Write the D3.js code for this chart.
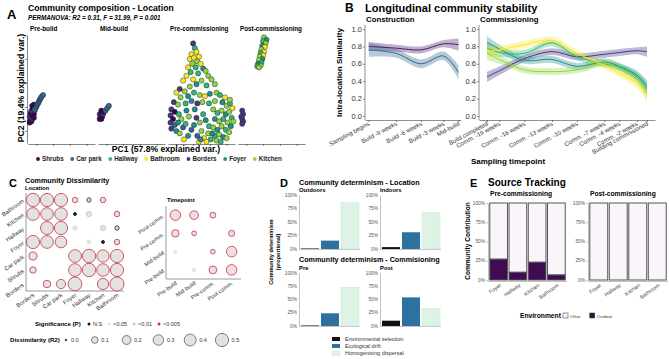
<!DOCTYPE html>
<html>
<head>
<meta charset="utf-8">
<script src="https://cdn.jsdelivr.net/npm/d3@7"></script>
<style>
  body { margin: 0; background: #fff; }
  text { font-family: "Liberation Sans", Arial, Helvetica, sans-serif; }
</style>
</head>
<body>
<svg id="fig" width="669" height="359"></svg>
<script>
// ---------- data ----------
// A: PCA scores [PC1, PC2, location code]  (codes: S C H B O F K)
const pcaLocations = ["Shrubs", "Car park", "Hallway", "Bathroom", "Borders", "Foyer", "Kitchen"];
const pcaColors = ["#440154", "#31688e", "#35b779", "#fde725", "#443a83", "#21908c", "#8fd744"];
const pcaCodes = "SCHBOFK";
const pcaFacets = ["Pre-build", "Mid-build", "Pre-commissioning", "Post-commissioning"];
const pcaPreBuild = [
  [-3.8,-1.3,"S"],[-3.7,-1.1,"S"],[-3.6,-1.2,"S"],[-3.6,-0.9,"S"],[-3.8,-0.8,"O"],[-3.5,-1.0,"O"],
  [-3.5,-0.7,"S"],[-3.7,-0.5,"S"],[-3.3,-0.6,"S"],[-3.3,-0.9,"S"],[-3.4,-0.4,"S"],[-3.6,-0.3,"O"],
  [-3.4,-0.1,"S"],[-3.2,-0.3,"O"],[-3.5,0.1,"S"],[-3.3,0.2,"S"],[-3.2,-0.2,"C"],[-3.0,0.0,"C"],
  [-2.9,0.2,"C"],[-2.8,0.3,"C"],[-2.7,0.45,"C"],[-2.6,0.6,"C"],[-2.5,0.7,"C"],[-2.4,0.85,"C"],[-2.2,1.0,"C"]
];
const pcaMidBuild = [
  [-3.8,-1.0,"S"],[-3.7,-0.8,"S"],[-3.8,-0.6,"O"],[-3.6,-0.5,"S"],[-3.5,-0.8,"S"],[-3.4,-0.6,"O"],
  [-3.6,-1.0,"S"],[-3.3,-0.4,"S"],[-3.6,-0.3,"S"],[-3.1,-0.3,"C"],[-2.9,-0.1,"C"],[-2.7,0.1,"C"]
];
const pcaPreComm = [
  [-1.0,5.3,"O"],[-0.8,4.9,"H"],[-1.2,4.4,"B"],[-0.6,4.6,"B"],[-1.4,4.0,"B"],[-0.9,4.1,"B"],[-0.3,4.2,"B"],
  [-0.5,3.8,"K"],[-1.1,3.6,"K"],[-0.1,3.6,"B"],[-1.6,3.3,"B"],[-0.7,3.3,"H"],[0.2,3.2,"F"],[-1.3,2.9,"H"],
  [0.5,3.0,"K"],[-0.4,2.8,"H"],[0.8,2.6,"K"],[-1.8,2.6,"B"],[-2.2,2.2,"B"],[-1.0,2.3,"B"],[0.0,2.2,"K"],
  [1.2,2.3,"K"],[-0.6,1.9,"F"],[0.6,1.8,"H"],[1.6,1.9,"K"],[-1.4,1.7,"K"],
  [-2.6,1.5,"O"],[-3.0,1.2,"B"],[-2.0,1.3,"K"],[-1.6,0.9,"F"],[-2.5,0.8,"K"],[-0.9,1.2,"H"],[-0.2,1.0,"K"],
  [0.4,0.9,"B"],[1.0,1.1,"F"],[1.8,1.2,"K"],[2.2,1.0,"H"],[2.8,0.8,"B"],[-3.3,0.4,"O"],[-2.8,0.2,"K"],
  [-1.9,0.3,"H"],[-1.2,0.5,"F"],[-0.5,0.3,"O"],[0.1,0.4,"K"],[0.9,0.3,"H"],[1.6,0.5,"K"],[2.5,0.4,"F"],
  [3.0,0.1,"K"],[3.4,0.3,"H"],
  [-3.6,-0.2,"O"],[-3.2,-0.4,"S"],[-3.7,-0.7,"O"],[-3.4,-1.0,"S"],[-3.7,-1.3,"O"],[-3.2,-1.5,"C"],
  [-3.6,-1.8,"O"],[-3.0,-2.0,"F"],[-2.7,-0.6,"H"],[-2.4,-1.0,"K"],[-2.8,-1.3,"F"],[-2.2,-1.7,"C"],
  [-2.6,-2.2,"K"],[-1.8,-0.3,"F"],[-1.5,-0.8,"K"],[-1.9,-1.4,"H"],[-1.2,-1.9,"C"],[-1.6,-2.4,"F"],[-2.1,-2.7,"B"],
  [-0.8,-0.2,"F"],[-0.6,-0.9,"O"],[-0.2,-1.3,"K"],[-0.9,-1.5,"F"],[0.2,-0.6,"H"],[0.5,-1.1,"F"],
  [0.0,-2.0,"K"],[-0.5,-2.4,"C"],[0.3,-2.6,"B"],[0.8,-2.2,"K"],[0.9,-1.6,"H"],[-0.3,-2.9,"B"],
  [0.6,-2.9,"B"],[1.1,-2.7,"H"],[-0.1,-2.7,"F"],
  [1.4,-0.2,"K"],[1.9,-0.5,"H"],[2.4,-0.3,"K"],[2.9,-0.6,"F"],[3.3,-0.4,"K"],[3.6,-0.9,"H"],[1.6,-1.0,"F"],
  [2.1,-1.2,"K"],[2.6,-1.0,"H"],[3.1,-1.3,"K"],[3.5,-1.6,"F"],[1.4,-1.7,"K"],[1.9,-1.9,"F"],[2.4,-1.6,"K"],
  [2.9,-1.9,"H"],[3.3,-2.1,"K"],[1.6,-2.4,"H"],[2.1,-2.3,"K"],[2.6,-2.5,"F"],[3.0,-2.6,"K"],[1.8,-2.8,"K"],
  [2.3,-2.9,"H"],[3.4,0.6,"K"],[3.7,-0.1,"B"],[3.8,-1.2,"K"],[1.3,-2.2,"F"]
];
const pcaPostComm = [
  [-3.5,-0.3,"O"],[-3.4,-0.6,"O"],[-3.6,-0.8,"O"],[-3.5,-1.0,"O"],[-3.4,-1.2,"O"],[-3.5,-1.4,"O"],
  [-0.9,5.8,"K"],[-0.6,5.6,"F"],[-1.0,5.5,"H"],[-0.7,5.3,"K"],[-1.1,5.1,"F"],[-0.8,5.0,"B"],
  [-1.2,4.8,"K"],[-0.9,4.6,"B"],[-1.3,4.5,"H"],[-1.0,4.3,"B"],[-1.4,4.2,"K"],[-1.1,4.0,"F"],
  [-1.5,3.9,"K"],[-1.2,3.7,"H"],[-1.6,3.6,"F"],[-1.3,3.45,"K"],[-1.7,3.4,"H"],[-1.5,3.3,"K"]
];
const pcaPoints = [pcaPreBuild, pcaMidBuild, pcaPreComm, pcaPostComm];

// B: intra-location similarity (smoothed mean and half band width)
const constrLabels = ["Sampling begins", "Build -9 weeks", "Build -6 weeks", "Build -3 weeks", "Mid-build"];
const constrPos = [0, 1.1, 2.1, 3.0, 3.6];
const constrSeries = ["Shrubs", "Car park"];
const constrColors = ["#4b1d6b", "#31688e"];
const constrMean = [[0.80, 0.78, 0.76, 0.83, 0.82], [0.76, 0.72, 0.60, 0.69, 0.50]];
const constrBand = [[0.05, 0.04, 0.04, 0.04, 0.07], [0.08, 0.05, 0.05, 0.05, 0.08]];
const commLabels = ["Build completed", "Comm. -19 weeks", "Comm. -16 weeks", "Comm. -13 weeks", "Comm. -10 weeks",
  "Comm. -7 weeks", "Comm. -4 weeks", "Comm. -2 weeks", "Building commissioned"];
const commPos = [0, 0.5, 1.5, 2.6, 3.6, 4.7, 5.3, 6.0, 6.4];
const commSeries = ["Borders", "Foyer", "Hallway", "Kitchen", "Bathroom"];
const commColors = ["#443a83", "#21908c", "#35b779", "#8fd744", "#fde725"];
const commMean = [
  [0.45, 0.52, 0.66, 0.74, 0.68, 0.71, 0.73, 0.75, 0.74],
  [0.85, 0.77, 0.64, 0.65, 0.57, 0.62, 0.57, 0.47, 0.34],
  [0.78, 0.73, 0.72, 0.84, 0.68, 0.60, 0.56, 0.45, 0.31],
  [0.72, 0.65, 0.53, 0.51, 0.53, 0.61, 0.55, 0.42, 0.27],
  [0.74, 0.76, 0.82, 0.87, 0.72, 0.58, 0.49, 0.37, 0.24]
];
const commBand = [
  [0.06, 0.05, 0.04, 0.04, 0.04, 0.04, 0.04, 0.04, 0.06],
  [0.07, 0.05, 0.04, 0.04, 0.04, 0.04, 0.04, 0.05, 0.07],
  [0.07, 0.05, 0.04, 0.04, 0.04, 0.04, 0.04, 0.05, 0.07],
  [0.07, 0.05, 0.04, 0.04, 0.04, 0.04, 0.04, 0.05, 0.07],
  [0.07, 0.05, 0.04, 0.04, 0.04, 0.04, 0.04, 0.05, 0.07]
];

// C: dissimilarity matrices (R2, significance 0=N.S 1=<0.05 2=<0.01 3=<0.005)
const locCols = ["Borders", "Shrubs", "Car park", "Foyer", "Hallway", "Kitchen", "Bathroom"];
const locRows = ["Bathroom", "Kitchen", "Hallway", "Foyer", "Car park", "Shrubs", "Borders"];
const locR2 = [
  [0.52, 0.50, 0.50, 0.06, 0.03, 0.06, null],
  [0.46, 0.45, 0.45, 0.01, 0.06, null, 0.06],
  [null, 0.48, 0.50, 0.04, null, 0.06, 0.03],
  [0.50, 0.46, 0.38, null, 0.03, 0.01, 0.06],
  [0.16, null, null, 0.46, 0.52, 0.43, 0.50],
  [0.09, null, null, 0.46, 0.52, 0.45, 0.50],
  [null, 0.13, 0.22, 0.55, null, 0.35, 0.58]
];
const locSig = [
  [3, 3, 3, 3, 0, 3, null],
  [3, 3, 3, 0, 2, null, 3],
  [null, 3, 3, 1, null, 2, 0],
  [3, 3, 3, null, 1, 0, 3],
  [3, null, null, 3, 3, 3, 3],
  [3, null, null, 3, 3, 3, 3],
  [null, 3, 3, 3, null, 3, 3]
];
const timeCols = ["Pre-build", "Mid-build", "Pre-comm.", "Post-comm."];
const timeRows = ["Post-comm.", "Pre-comm.", "Mid-build", "Pre-build"];
const timeR2 = [
  [0.30, 0.19, 0.07, null],
  [0.13, 0.04, null, 0.08],
  [0.012, null, 0.04, 0.30],
  [null, 0.02, 0.15, 0.30]
];
const timeSig = [
  [3, 3, 3, null],
  [3, 3, null, 3],
  [1, null, 3, 3],
  [null, 1, 3, 3]
];
const sigLabels = ["N.S", "<0.05", "<0.01", "<0.005"];
const sigColors = ["#1a1a1a", "#e9dfe0", "#dcbfc3", "#c8323e"];
const r2Legend = [0.0, 0.1, 0.2, 0.3, 0.4, 0.5];

// D: community determinism
const detProcesses = ["Environmental selection", "Ecological drift", "Homogenising dispersal"];
const detColors = ["#111111", "#2e70a0", "#def3e5"];
const detPanels = ["Outdoors", "Indoors", "Pre", "Post"];
const detValues = [
  [0.01, 0.155, 0.86],
  [0.035, 0.31, 0.67],
  [0.01, 0.24, 0.73],
  [0.10, 0.54, 0.33]
];

// E: source tracking (Outdoor share)
const stSites = ["Foyer", "Hallway", "Kitchen", "Bathroom"];
const stPanels = ["Pre-commissioning", "Post-commissioning"];
const stOutdoor = [[0.27, 0.10, 0.23, 0.065], [0, 0, 0, 0]];
const stEnv = ["Other", "Outdoor"];
const stColors = ["#faf4fb", "#3f0b52"];

// ---------- drawing ----------
const svg = d3.select("#fig");
svg.append("rect").attr("width", 669).attr("height", 359).attr("fill", "#fff");

function label(g, x, y, s, size, opt = {}) {
  const t = g.append("text")
    .attr("transform", `translate(${x},${y})` + (opt.rot ? ` rotate(${opt.rot})` : ""))
    .attr("font-size", size)
    .attr("font-weight", opt.bold ? 700 : 400)
    .attr("text-anchor", opt.anchor || "start")
    .attr("fill", opt.fill || "#000")
    .text(s);
  if (opt.italic) t.attr("font-style", "italic");
  return t;
}
function styleAxis(g, stroke) {
  g.selectAll("path, line").attr("stroke", stroke || "#333").attr("stroke-width", 0.6);
  g.selectAll("text").remove();
}

// ===== A =====
const gA = svg.append("g");
label(gA, 7, 19, "A", 13, {bold: true});
label(gA, 28, 10.5, "Community composition - Location", 8.7, {bold: true});
label(gA, 28, 19.5, "PERMANOVA: R2 = 0.31, F = 31.99, P = 0.001", 6.3, {bold: true, italic: true});
const facetX0 = [28, 98, 168, 238], facetW = 67;
const yA = d3.scaleLinear().domain([-3, 6]).range([143, 35]);
const yAxA = gA.append("g").attr("transform", "translate(27,0)")
  .call(d3.axisLeft(yA).tickValues([-2, 0, 2, 4]).tickSize(2).tickSizeOuter(0));
styleAxis(yAxA);
label(gA, 24, 88, "PC2 (19.4% explained var.)", 8.6, {bold: true, anchor: "middle", rot: -90});
pcaFacets.forEach((f, i) => {
  const xA = d3.scaleLinear().domain([-4, 4]).range([facetX0[i], facetX0[i] + facetW]);
  const ax = gA.append("g").attr("transform", "translate(0,144)")
    .call(d3.axisBottom(xA).tickValues([-3, -1, 1, 3]).tickSize(2).tickSizeOuter(0));
  styleAxis(ax);
  label(gA, facetX0[i] + 2, 30.5, f, 6.3, {bold: true});
  gA.append("g").selectAll("circle").data(pcaPoints[i]).join("circle")
    .attr("cx", d => xA(d[0])).attr("cy", d => yA(d[1])).attr("r", 2.6)
    .attr("fill", d => pcaColors[pcaCodes.indexOf(d[2])])
    .attr("stroke", "#1a1a1a").attr("stroke-width", 0.45);
});
label(gA, 166, 152, "PC1 (57.8% explained var.)", 8.6, {bold: true, anchor: "middle"});
{
  let x = 38;
  pcaLocations.forEach((loc, i) => {
    gA.append("circle").attr("cx", x).attr("cy", 159).attr("r", 1.9).attr("fill", pcaColors[i]);
    const t = label(gA, x + 4, 161.3, loc, 6.3, {bold: true, fill: "#222"});
    x += 4 + t.node().getComputedTextLength() + 8.5;
  });
}

// ===== B =====
const gB = svg.append("g");
label(gB, 345, 12, "B", 12, {bold: true});
label(gB, 365, 12, "Longitudinal community stability", 11, {bold: true});
const yB = d3.scaleLinear().domain([0, 1]).range([116, 29]);
label(gB, 342, 72.5, "Intra-location Similarity", 8, {bold: true, anchor: "middle", rot: -90});
label(gB, 508, 164, "Sampling timepoint", 8, {bold: true, anchor: "middle"});

function trendPanel(title, x, pos, labels, means, bands, colors) {
  const [x0, x1] = x.range();
  label(gB, x0 + 1, 21.5, title, 7.8, {bold: true});
  const ya = gB.append("g").attr("transform", `translate(${x0},0)`)
    .call(d3.axisLeft(yB).tickValues([0, 0.2, 0.4, 0.6, 0.8, 1]).tickSize(2).tickSizeOuter(0));
  styleAxis(ya, "#444");
  ya.select(".domain").attr("d", `M0,25V120`);
  [0, 0.2, 0.4, 0.6, 0.8, 1].forEach(v =>
    label(gB, x0 - 3, yB(v) + 2.6, d3.format(".1f")(v), 7.5, {anchor: "end", fill: "#333"}));
  const xa = gB.append("g").attr("transform", "translate(0,120)")
    .call(d3.axisBottom(x).tickValues(pos).tickSize(2).tickSizeOuter(0));
  styleAxis(xa, "#444");
  pos.forEach((p, i) =>
    label(gB, x(p) + 1.5, 125, labels[i], 6.1, {anchor: "end", rot: -28, fill: "#333"}));
  const curve = d3.curveCatmullRom.alpha(0.5);
  const area = d3.area().x((d, i) => x(pos[i])).y0(d => yB(d[0] - d[1])).y1(d => yB(d[0] + d[1])).curve(curve);
  const line = d3.line().x((d, i) => x(pos[i])).y(d => yB(d[0])).curve(curve);
  means.forEach((m, s) => {
    const pts = m.map((v, i) => [v, bands[s][i]]);
    gB.append("path").attr("d", area(pts)).attr("fill", colors[s]).attr("opacity", 0.35);
  });
  means.forEach((m, s) => {
    const pts = m.map((v, i) => [v, bands[s][i]]);
    gB.append("path").attr("d", line(pts)).attr("fill", "none").attr("stroke", colors[s]).attr("stroke-width", 1);
  });
}
trendPanel("Construction", d3.scaleLinear().domain([-0.15, 3.7]).range([365, 461]),
  constrPos, constrLabels, constrMean, constrBand, constrColors);
trendPanel("Commissioning", d3.scaleLinear().domain([-0.32, 6.72]).range([479, 655]),
  commPos, commLabels, commMean, commBand, commColors);

// ===== C =====
const gC = svg.append("g");
label(gC, 9, 187, "C", 11, {bold: true});
label(gC, 25, 183, "Community Dissimilarity", 7.2, {bold: true});
label(gC, 25, 189.5, "Location", 5.8, {bold: true});
const rC = d3.scaleSqrt().domain([0, 0.5]).range([0.7, 6.6]);

function bubbleMatrix(cols, rows, r2, sig, xr, yr, fill, tickSize) {
  const x = d3.scaleBand().domain(cols).range(xr);
  const y = d3.scaleBand().domain(rows).range(yr);
  const g = gC.append("g");
  g.append("path").attr("d", `M${xr[0]},${yr[0]}V${yr[1]}H${xr[1]}`)
    .attr("fill", "none").attr("stroke", "#555").attr("stroke-width", 0.6);
  const cells = [];
  rows.forEach((rw, i) => cols.forEach((c, j) => {
    if (r2[i][j] != null) cells.push({r: rw, c, v: r2[i][j], s: sig[i][j]});
  }));
  g.selectAll("circle").data(cells).join("circle")
    .attr("cx", d => x(d.c) + x.bandwidth() / 2).attr("cy", d => y(d.r) + y.bandwidth() / 2)
    .attr("r", d => rC(d.v))
    .attr("fill", d => d.s === 0 && d.v < 0.02 ? sigColors[0] : fill)
    .attr("stroke", d => sigColors[d.s]).attr("stroke-width", 0.8);
  rows.forEach(rw => label(g, xr[0] - 1.5, y(rw) + y.bandwidth() / 2 + 2, rw, tickSize,
    {anchor: "end", rot: -35, fill: "#333"}));
  cols.forEach(c => label(g, x(c) + x.bandwidth() / 2 + 2, yr[1] + 5, c, tickSize,
    {anchor: "end", rot: -35, fill: "#333"}));
}
bubbleMatrix(locCols, locRows, locR2, locSig, [26, 124], [193, 291], "#e2e2e2", 5.9);
label(gC, 167, 202, "Timepoint", 5.8, {bold: true});
bubbleMatrix(timeCols, timeRows, timeR2, timeSig, [166, 241], [206, 279], "#f1dde1", 5.6);

// legend C
label(gC, 35, 326, "Significance (P)", 6.1, {bold: true});
{
  let x = 87;
  sigLabels.forEach((s, i) => {
    gC.append("circle").attr("cx", x + 2).attr("cy", 324).attr("r", 1.5).attr("fill", sigColors[i]);
    const t = label(gC, x + 6, 326, s, 5.5, {fill: "#333"});
    x += 6 + t.node().getComputedTextLength() + 5;
  });
}
label(gC, 10, 342, "Dissimilarity (R2)", 6.1, {bold: true});
r2Legend.forEach((v, i) => {
  const cx = 66 + 31.8 * i - (i === 0 ? 0 : 3);
  const r = rC(v);
  gC.append("circle").attr("cx", cx).attr("cy", 340).attr("r", i === 0 ? 0.9 : r)
    .attr("fill", i === 0 ? "#333" : "#e2e2e2").attr("stroke", "#333").attr("stroke-width", 0.6);
  label(gC, cx + (i === 0 ? 5 : r + 3), 342, d3.format(".1f")(v), 5.5, {fill: "#333"});
});

// ===== D =====
const gD = svg.append("g");
label(gD, 280, 187, "D", 11, {bold: true});
label(gD, 299, 185, "Community determinism - Location", 7.2, {bold: true});
label(gD, 299, 262, "Community determinism - Commisioning", 7.2, {bold: true});
label(gD, 272.5, 252, "Community determinism", 5.6, {bold: true, anchor: "middle", rot: -90});
label(gD, 279.5, 252, "(proportional)", 5.6, {bold: true, anchor: "middle", rot: -90});
const detFrames = [
  {x: [300, 360], y: [249, 195], t: 192},
  {x: [381, 441], y: [249, 195], t: 192},
  {x: [300, 360], y: [326, 273], t: 269.5},
  {x: [381, 441], y: [326, 273], t: 269.5}
];
detPanels.forEach((p, k) => {
  const f = detFrames[k];
  const x = d3.scaleBand().domain(detProcesses).range(f.x).paddingInner(0.1).paddingOuter(0.05);
  const y = d3.scaleLinear().domain([0, 1]).range(f.y);
  label(gD, f.x[0] - 1, f.t, p, 5.9, {bold: true});
  const ya = gD.append("g").attr("transform", `translate(${f.x[0] - 1},0)`)
    .call(d3.axisLeft(y).tickValues([0, 0.25, 0.5, 0.75, 1]).tickSize(0).tickSizeOuter(0));
  styleAxis(ya, "#9a9a9a");
  [0, 0.25, 0.5, 0.75, 1].forEach(v =>
    label(gD, f.x[0] - 3, y(v) + 1.7, d3.format(".0%")(v), 4.8, {anchor: "end", fill: "#555"}));
  gD.append("line").attr("x1", f.x[0] - 1).attr("x2", f.x[1]).attr("y1", f.y[0] + 0.5).attr("y2", f.y[0] + 0.5)
    .attr("stroke", "#9a9a9a").attr("stroke-width", 0.6);
  gD.append("g").selectAll("rect").data(detValues[k]).join("rect")
    .attr("x", (d, i) => x(detProcesses[i])).attr("width", x.bandwidth())
    .attr("y", d => y(d)).attr("height", d => y(0) - y(d))
    .attr("fill", (d, i) => detColors[i])
    .attr("stroke", (d, i) => i === 2 ? "#c6e6cf" : "none").attr("stroke-width", 0.5);
});
detProcesses.forEach((p, i) => {
  gD.append("rect").attr("x", 332).attr("y", 337 + 7 * i).attr("width", 8).attr("height", 4)
    .attr("fill", detColors[i]).attr("stroke", i === 2 ? "#c6e6cf" : "none").attr("stroke-width", 0.5);
  label(gD, 345, 341 + 7 * i, p, 5.5, {fill: "#333"});
});

// ===== E =====
const gE = svg.append("g");
label(gE, 470, 186.5, "E", 11, {bold: true});
label(gE, 488, 186, "Source Tracking", 10, {bold: true});
label(gE, 469.5, 241, "Community Contribution", 6.6, {bold: true, anchor: "middle", rot: -90});
const stFrames = [[489, 566], [589, 667]];
const yE = d3.scaleLinear().domain([0, 1]).range([280, 203]);
stPanels.forEach((p, k) => {
  const xr = stFrames[k];
  const x = d3.scaleBand().domain(stSites).range(xr).paddingInner(0.08).paddingOuter(0.04);
  label(gE, xr[0] + 1, 196, p, 6.7, {bold: true});
  const ya = gE.append("g").attr("transform", `translate(${xr[0] - 1},0)`)
    .call(d3.axisLeft(yE).tickValues([0, 0.25, 0.5, 0.75, 1]).tickSize(2).tickSizeOuter(0));
  styleAxis(ya, "#9a9a9a");
  [0, 0.25, 0.5, 0.75, 1].forEach(v =>
    label(gE, xr[0] - 4, yE(v) + 1.7, d3.format(".0%")(v), 4.8, {anchor: "end", fill: "#555"}));
  gE.append("line").attr("x1", xr[0] - 1).attr("x2", xr[1] + 1).attr("y1", 281.5).attr("y2", 281.5)
    .attr("stroke", "#9a9a9a").attr("stroke-width", 0.6);
  const stacks = stSites.map((s, i) => ({s, out: stOutdoor[k][i]}));
  const bars = gE.append("g");
  bars.selectAll("rect.other").data(stacks).join("rect").attr("class", "other")
    .attr("x", d => x(d.s)).attr("width", x.bandwidth())
    .attr("y", yE(1)).attr("height", d => yE(d.out) - yE(1))
    .attr("fill", stColors[0]).attr("stroke", "#555").attr("stroke-width", 1);
  bars.selectAll("rect.out").data(stacks.filter(d => d.out > 0)).join("rect").attr("class", "out")
    .attr("x", d => x(d.s)).attr("width", x.bandwidth())
    .attr("y", d => yE(d.out)).attr("height", d => yE(0) - yE(d.out))
    .attr("fill", stColors[1]).attr("stroke", "#555").attr("stroke-width", 1);
  stSites.forEach(s => label(gE, x(s) + x.bandwidth() / 2 + 3, 286, s, 5.3,
    {anchor: "end", rot: -35, fill: "#444"}));
});
label(gE, 520, 318, "Environment", 6.7, {bold: true});
{
  let x = 563;
  stEnv.forEach((e, i) => {
    gE.append("rect").attr("x", x).attr("y", 313).attr("width", 5).attr("height", 5)
      .attr("fill", stColors[i]).attr("stroke", "#333").attr("stroke-width", 0.5);
    const t = label(gE, x + 7, 317.5, e, 4.3, {fill: "#333"});
    x += 7 + t.node().getComputedTextLength() + 9;
  });
}
</script>
</body>
</html>
